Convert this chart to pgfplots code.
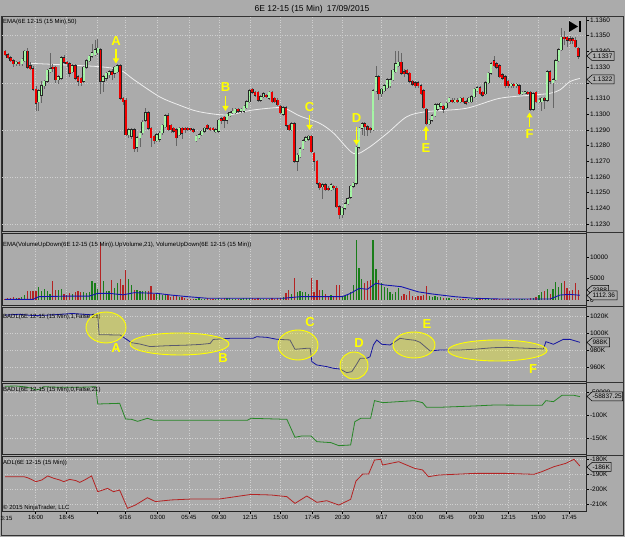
\documentclass[border=0pt]{standalone}
\usepackage{pgfplots}
\pgfplotsset{compat=1.18}
\usepackage{pgfplotstable}
\usepackage{fontspec}
\setmainfont{Liberation Sans}
\usetikzlibrary{arrows.meta}
\definecolor{bg}{RGB}{171,171,171}
\definecolor{gridc}{RGB}{208,208,208}
\definecolor{upc}{RGB}{165,245,165}
\definecolor{dnc}{RGB}{240,0,0}
\definecolor{vup}{RGB}{25,125,25}
\definecolor{vdn}{RGB}{180,35,35}
\definecolor{emac}{RGB}{238,238,238}
\definecolor{badlc}{RGB}{20,20,160}
\definecolor{vemac}{RGB}{20,20,175}
\definecolor{badltwo}{RGB}{40,135,40}
\definecolor{adlc}{RGB}{180,35,35}
\definecolor{ylw}{RGB}{255,255,0}

\pgfplotstableread{
i o h l c v
0 340 341 337 338 300
1 338 339 335 336 400
2 336 337 333 334 500
3 334 335 330 332 600
4 332 334 331 333 400
5 333 334 331 332 500
6 332 336 331 335 700
7 334 341 333 340 1200
8 340 342 329 330 2000
9 331 333 328 329 2100
10 329 331 315 316 2200
11 316 318 302 307 2000
12 308 316 302 315 3100
13 312 321 307 318 2000
14 318 322 316 321 2500
15 321 329 320 328 2200
16 327 339 326 329 1500
17 330 332 327 329 4300
18 330 331 320 322 2300
19 322 325 319 324 2300
20 323 337 322 336 2500
21 336 338 332 333 1500
22 333 334 330 332 1200
23 332 333 324 326 1600
24 327 332 326 331 1400
25 331 332 322 323 1900
26 324 325 318 321 2000
27 323 324 318 320 1900
28 321 331 320 330 1800
29 330 335 329 334 1600
30 334 338 333 337 1800
31 337 345 336 339 4300
32 338 347 337 341 3900
33 339 348 338 342 2500
34 341 342 313 321 13200
35 321 325 314 324 4300
36 323 327 321 326 2000
37 325 328 323 327 2000
38 327 329 322 325 4600
39 326 331 323 330 2700
40 327 332 326 331 3900
41 331 332 309 310 4800
42 310 311 306 308 3500
43 309 310 286 287 7000
44 287 291 285 290 4800
45 286 291 284 290 3500
46 290 291 276 278 2300
47 279 286 276 285 2300
48 285 289 279 288 2000
49 288 296 287 295 2000
50 296 304 295 301 2000
51 301 302 290 291 2000
52 291 292 279 285 3300
53 286 287 281 283 1500
54 283 288 282 287 1500
55 284 289 282 288 1500
56 288 294 287 293 1200
57 292 300 291 299 1100
58 299 301 289 290 1100
59 293 294 288 290 800
60 291 292 288 289 1000
61 290 291 280 285 900
62 287 292 286 291 700
63 291 292 284 288 600
64 291 292 288 290 400
65 291 292 289 290 300
66 291 291 289 290 300
67 290 291 288 289 250
68 283 287 282 286 200
69 285 288 284 287 350
70 287 290 286 289 300
71 289 292 288 291 250
72 293 294 290 291 400
73 291 292 289 290 300
74 291 292 289 290 200
75 289 291 288 290 300
76 289 297 288 296 500
77 297 298 294 296 300
78 298 299 291 296 400
79 296 301 294 300 450
80 299 302 298 301 350
81 301 304 300 302 300
82 301 304 300 303 250
83 303 304 301 302 200
84 302 304 301 303 300
85 302 306 301 305 400
86 304 309 303 308 450
87 308 316 307 315 500
88 316 317 313 314 350
89 314 315 311 312 300
90 314 315 308 309 400
91 309 312 308 311 300
92 311 314 310 313 250
93 312 313 310 311 200
94 310 315 309 314 300
95 314 315 307 308 400
96 310 311 307 308 300
97 309 310 305 306 350
98 305 306 300 301 500
99 300 305 299 304 600
100 304 305 292 293 1700
101 293 294 289 290 2300
102 290 295 289 294 1500
103 294 295 269 270 5000
104 270 275 264 274 1900
105 273 279 272 278 2000
106 278 284 277 283 1900
107 283 286 282 285 1900
108 284 287 283 286 1400
109 286 287 275 276 5000
110 275 276 264 270 1900
111 270 271 255 256 4600
112 256 257 252 253 2300
113 254 256 246 255 2300
114 255 256 251 252 1500
115 253 254 251 252 1000
116 252 256 251 255 1200
117 254 255 252 253 1000
118 253 254 240 241 3600
119 241 242 233 236 3600
120 236 241 234 240 1000
121 240 244 239 243 900
122 243 247 242 246 1200
123 247 255 246 254 1900
124 254 257 253 256 3500
125 256 280 255 279 14000
126 279 292 278 291 7400
127 291 295 287 294 4800
128 294 295 286 292 3900
129 292 293 286 290 4300
130 291 292 288 290 4600
131 290 316 289 315 14000
132 315 331 314 324 7100
133 324 325 309 313 4600
134 313 317 311 316 3900
135 315 319 314 318 3100
136 317 323 316 322 2700
137 318 323 317 322 1900
138 322 329 321 328 1500
139 327 340 326 332 1900
140 331 340 330 333 2700
141 333 339 325 326 1000
142 327 329 324 326 1500
143 328 329 325 326 1200
144 326 327 320 321 2100
145 321 322 318 319 900
146 320 321 317 318 800
147 320 321 317 318 900
148 318 319 312 313 1000
149 315 316 303 304 1200
150 303 304 293 294 3300
151 294 297 293 296 900
152 296 300 295 299 800
153 299 307 298 306 900
154 303 307 302 306 700
155 305 308 303 307 600
156 305 306 301 303 500
157 304 308 303 307 400
158 308 311 307 310 350
159 309 310 307 308 300
160 308 310 307 309 250
161 309 310 307 308 200
162 308 311 307 310 200
163 310 311 307 308 250
164 308 309 306 307 200
165 308 311 307 310 300
166 308 312 307 311 250
167 311 317 310 316 300
168 315 318 314 317 250
169 317 318 312 313 200
170 314 315 311 312 250
171 313 321 312 320 300
172 320 327 319 326 250
173 326 333 325 332 300
174 334 337 330 331 200
175 332 333 329 330 200
176 331 332 323 324 250
177 325 326 322 323 200
178 324 325 317 318 250
179 321 322 317 318 200
180 318 320 317 319 150
181 319 320 317 318 200
182 318 320 317 319 150
183 318 319 312 313 250
184 313 315 312 314 200
185 314 315 313 314 150
186 314 315 312 313 300
187 314 315 302 303 400
188 303 314 302 313 500
189 314 315 307 308 700
190 308 310 307 309 1200
191 308 311 302 310 1900
192 310 311 303 309 2000
193 309 328 308 327 2500
194 327 328 319 321 1500
195 320 323 304 322 2500
196 322 335 321 334 4100
197 334 342 333 341 3100
198 341 355 340 349 3900
199 349 353 344 348 4300
200 349 350 343 347 2700
201 348 350 345 347 2100
202 348 349 345 347 2300
203 347 349 342 343 4000
204 342 343 335 337 2300
}\candles

\pgfplotsset{
  panel/.style={
    scale only axis, width=584pt, xmin=-1.068, xmax=206.76,
    anchor=south west,
    axis line style={black!85, line width=0.7pt},
    tick align=outside, major tick length=3pt,
    ytick pos=right, yticklabel pos=right,
    scaled ticks=false,
    yticklabel style={font=\fontsize{6.5}{7}\selectfont, inner sep=0.8pt},
    xtick={10.93,21.96,32.85,42.81,54.34,65.48,76.16,87.19,98.11,109.36,120.04,134.06,146.16,157.05,167.86,179.11,189.79,200.82},
    xmajorgrids,
    major grid style={gridc, dash pattern=on 1pt off 1.5pt, line width=0.5pt},
    ytick style={black, line width=0.5pt},
    xtick style={black, line width=0.5pt},
  },
  nomk/.style={only marks, mark=*, mark size=0pt, mark options={draw=none, fill=none}, forget plot},
}

\begin{document}
\begin{tikzpicture}
\begin{scope}[x=1pt,y=-1pt,shift={(0pt,537pt)}]
  \path[use as bounding box] (0,0) rectangle (625,537);
  \fill[bg] (0,0) rectangle (625,537);
\end{scope}

% ---------- Price panel ----------
\begin{axis}[panel, at={(2pt,306pt)}, height=215pt, ymin=225.6, ymax=362.55,
  xmajorticks=false,
  ytick={230,240,250,260,270,280,290,300,310,320,330,340,350,360},
  yticklabels={1.1230,1.1240,1.1250,1.1260,1.1270,1.1280,1.1290,1.1300,1.1310,,1.1330,1.1340,1.1350,1.1360},
  extra y ticks={230,260,290,320,350}, extra y tick labels={}, extra y tick style={grid=major}]
\addplot[emac, line width=0.8pt, smooth] coordinates {
(9,332.4) (20,331.5) (34,330.2) (41,328.1) (46,321.8) (55,311.1) (62,305.8) (69,301.6) (79,299.5) (88,302.6) (98,304.3) (101,302.6) (105,298.8) (112,294.2) (117,287.8) (124,275) (129,278.2) (136,287.8) (143,298.4) (150,301.6) (164,303.7) (176,310.1) (188,312.2) (194,313.3) (197.5,315.5) (201,320.7) (204.6,322.8)};
% wicks
\addplot[nomk, error bars/.cd, y dir=both, y explicit, error mark=none,
  error bar style={draw=black!60, line width=0.55pt}]
  table[x=i, y expr={(\thisrow{h}+\thisrow{l})/2}, y error expr={(\thisrow{h}-\thisrow{l})/2}] {\candles};
% body outlines
\addplot[nomk, error bars/.cd, y dir=both, y explicit, error mark=none,
  error bar style={draw=black!85, line width=2.7pt}]
  table[x=i, y expr={(\thisrow{o}+\thisrow{c})/2}, y error expr={max(abs(\thisrow{c}-\thisrow{o})/2,0.4)+0.3}] {\candles};
% up bodies
\addplot[nomk, restrict expr to domain={\thisrow{c}-\thisrow{o}}{0:1000},
  error bars/.cd, y dir=both, y explicit, error mark=none,
  error bar style={draw=upc, line width=1.9pt}]
  table[x=i, y expr={(\thisrow{o}+\thisrow{c})/2}, y error expr={max(abs(\thisrow{c}-\thisrow{o})/2,0.4)}] {\candles};
% down bodies
\addplot[nomk, restrict expr to domain={\thisrow{o}-\thisrow{c}}{0.5:1000},
  error bars/.cd, y dir=both, y explicit, error mark=none,
  error bar style={draw=dnc, line width=1.9pt}]
  table[x=i, y expr={(\thisrow{o}+\thisrow{c})/2}, y error expr={max(abs(\thisrow{c}-\thisrow{o})/2,0.4)}] {\candles};
\end{axis}

% ---------- Volume panel ----------
\begin{axis}[panel, at={(2pt,232pt)}, height=72pt, ymin=-1163, ymax=15581,
  xmajorticks=false,
  ytick={0,5000,10000}, yticklabels={0,5000,10000}]
\addplot[ycomb, mark=none, draw=vup, line width=1.25pt, restrict expr to domain={\thisrow{c}-\thisrow{o}}{0:1000}] table[x=i,y=v] {\candles};
\addplot[ycomb, mark=none, draw=vdn, line width=1.25pt, restrict expr to domain={\thisrow{o}-\thisrow{c}}{0.5:1000}] table[x=i,y=v] {\candles};
\addplot[vemac, line width=0.9pt] coordinates {
(0,150) (10,150) (12,770) (22,900) (30,900) (33,1550) (37,1550) (42,1200) (46,1700) (54,1550) (59,1150) (65,770) (72,400) (99,400) (105,770) (120,770) (123,1550) (126,2700) (129,2500) (132,3900) (135,3500) (141,3100) (147,1900) (152,1400) (160,770) (167,400) (176,230) (194,230) (197.5,1150) (201,1300) (204.6,1100)};
\end{axis}

% ---------- BADL 1 ----------
\begin{axis}[panel, at={(2pt,156pt)}, height=74pt, ymin=943.5, ymax=1030.6,
  xmajorticks=false, ymajorgrids,
  ytick={960,980,1000,1020}, yticklabels={960K,980K,1000K,1020K}]
\addplot[badlc, line width=0.8pt] coordinates {
(0,1021) (5,1022) (10,1020.5) (15,1021) (20,1022) (24,1023) (28,1022) (33,1021) (33.5,998) (41,997.6) (45,988.6) (48,987) (51.6,984) (57.5,985) (64.6,985.7) (69.4,986.5) (73,987.7) (74.1,992.4) (80,993.7) (88.3,993.7) (89.5,995.6) (93.1,994.9) (96.7,992.6) (101.4,991.8) (103.2,980.8) (107.4,982) (108.6,982) (109.2,966.3) (110.9,962.4) (114.5,960.4) (116.9,958.4) (119.2,957.6) (121.6,953.3) (123.4,954.5) (124.6,960.4) (126.4,970.2) (128.7,970.2) (129.9,972) (131.1,985.9) (132.3,991.8) (134.1,986.7) (137,985.9) (138.8,989.8) (140.6,993.7) (143,992.5) (145.9,991.4) (147.7,989) (149.5,983.9) (151.3,978.8) (154.8,980) (161.9,980) (166.7,980.8) (173.8,982.7) (178.5,983.1) (185.7,982) (191.6,981.2) (192.5,989.8) (195.2,986.7) (198.7,992.5) (201.1,992.5) (204.6,989)};
\end{axis}

% ---------- BADL 0 ----------
\begin{axis}[panel, at={(2pt,83pt)}, height=71pt, ymin=-184.8, ymax=-30.4,
  xmajorticks=false, ymajorgrids,
  ytick={-150,-100,-50}, yticklabels={-150K,-100K,-50000}]
\addplot[badltwo, line width=0.8pt] coordinates {
(0,-37.5) (3.9,-37) (6.7,-38.5) (9.6,-42) (11,-45.6) (12.4,-44) (13.8,-38.5) (19.5,-39.8) (26.6,-39.8) (32.3,-38.5) (33,-76.1) (40.8,-74.6) (42.9,-108.7) (45,-109.4) (47.2,-113.8) (50.7,-107.2) (53,-111.6) (86.2,-111.6) (87.6,-107.2) (100.3,-109.4) (103.2,-148.5) (105.6,-145.6) (108.9,-145.6) (111,-158) (116,-160.1) (118.8,-166.7) (123,-165.2) (124.5,-114.5) (126.6,-107.2) (130.1,-107.2) (131.5,-68.8) (134.4,-73.2) (140,-71) (145.7,-68.8) (148.6,-73.2) (150,-83.3) (154.3,-83.3) (167,-80.4) (174,-78.3) (191.1,-79) (192.5,-68.8) (195.2,-71) (198.2,-57.2) (202.5,-57.2) (204.6,-60.1)};
\end{axis}

% ---------- ADL ----------
\begin{axis}[panel, at={(2pt,26pt)}, height=55pt, ymin=-214.67, ymax=-178,
  ymajorgrids, xtick pos=left,
  xticklabels={16:00,18:45,,9/16,03:00,05:45,09:30,12:15,15:00,17:45,20:30,9/17,03:00,05:45,09:30,12:15,15:00,17:45},
  xticklabel style={font=\fontsize{6}{7}\selectfont, inner sep=1pt},
  ytick={-210,-200,-190,-180}, yticklabels={-210K,-200K,-190K,-180K}]
\addplot[adlc, line width=0.8pt] coordinates {
(0,-191.8) (6.7,-191.8) (8.1,-192.5) (11,-195.1) (13.1,-194) (15.2,-191.3) (17.4,-192.9) (19.5,-194) (20.9,-195.1) (23,-193.6) (25.2,-194.4) (26.6,-195.6) (28.7,-193.6) (30.8,-191.3) (33,-201.8) (36.5,-199.6) (38.6,-201.8) (40.8,-200.7) (43.6,-212.9) (46.4,-210.7) (50.7,-205.8) (53.5,-208.4) (59.2,-207.3) (66.3,-206.7) (76.2,-206.7) (87.6,-203.6) (94.7,-204) (100.3,-205.1) (103.2,-209.6) (107.4,-204.7) (111,-208.9) (114.5,-207.8) (118.8,-210.7) (123,-206.9) (124.9,-194.7) (127.3,-190) (129.4,-190) (131.5,-180.7) (133.7,-180.2) (134.4,-184) (140.1,-181.8) (145.7,-186.2) (148.6,-187.3) (150.7,-191.8) (154.3,-190.7) (167,-189.6) (178.4,-189.6) (188.3,-190.2) (191.1,-188.4) (195.4,-185.1) (199.6,-182.9) (202.5,-180.2) (204.6,-184.7)};
\end{axis}

% ---------- annotations (image pixel coordinates) ----------
\begin{scope}[x=1pt,y=-1pt,shift={(0pt,537pt)}]
  \draw[black!80, line width=0.8pt] (1,16) rectangle (623.5,535);
  \foreach \yy in {232,306,382,455} \draw[black!80, line width=0.8pt] (586,\yy) -- (623.5,\yy);
  \node[font=\fontsize{8.5}{10}\selectfont] at (312,9) {6E 12-15 (15 Min)\enspace 17/09/2015};
  \tikzset{plab/.style={anchor=west, inner sep=0, font=\fontsize{6}{7}\selectfont}}
  \node[plab] at (3,22) {EMA(6E 12-15 (15 Min),50)};
  \node[plab] at (3,244.5) {EMA(VolumeUpDown(6E 12-15 (15 Min)).UpVolume,21), VolumeUpDown(6E 12-15 (15 Min))};
  \node[plab] at (3,317) {BADL(6E 12-15 (15 Min),1,False,21)};
  \node[plab] at (3,390) {BADL(6E 12-15 (15 Min),0,False,21)};
  \node[plab] at (3,463) {ADL(6E 12-15 (15 Min))};
  \node[plab] at (3,507.5) {\textcopyright{} 2015 NinjaTrader, LLC};
  \node[font=\fontsize{6}{7}\selectfont, inner sep=0] at (6.5,518.5) {3:15};
  % value boxes
  \newcommand{\valbox}[3]{%
    \draw[black, line width=0.5pt, fill=bg] (587,#1) -- (592,#1-4.5) -- (#2,#1-4.5) -- (#2,#1+4.5) -- (592,#1+4.5) -- cycle;
    \node[font=\fontsize{6.5}{7}\selectfont, anchor=west, inner sep=0] at (592.3,#1) {#3};}
  \valbox{56}{614}{1.1337}
  \valbox{79.5}{614}{1.1322}
  \valbox{290}{608.5}{2388}
  \valbox{295.5}{617}{1112.36}
  \valbox{342.5}{609.5}{988K}
  \valbox{396.5}{622.5}{-58837.25}
  \valbox{467}{611}{-186K}
  % end-of-chart icon
  \fill[black] (569,21) -- (578,26.5) -- (569,32) -- cycle;
  \fill[black] (578.5,21) rectangle (580.5,32);
  % yellow letters and arrows in price panel
  \tikzset{lbl/.style={text=ylw, inner sep=0, font=\fontsize{13}{13}\selectfont\bfseries},
           yarr/.style={ylw, line width=1.4pt, -{Triangle[width=6pt,length=5pt]}}}
  \node[lbl] at (116,41) {A};   \draw[yarr] (116,49) -- (116,63.5);
  \node[lbl] at (225.5,87.5) {B}; \draw[yarr] (225.5,96) -- (225.5,111);
  \node[lbl] at (309.5,107) {C}; \draw[yarr] (309.5,115.5) -- (309.5,130);
  \node[lbl] at (356.5,118) {D}; \draw[yarr] (356.5,127) -- (356.5,145);
  \node[lbl] at (426,148) {E};   \draw[yarr] (426,140.5) -- (426,126);
  \node[lbl] at (529.5,134) {F}; \draw[yarr] (529.5,127) -- (529.5,112.5);
  % ellipses in BADL panel
  \tikzset{ell/.style={fill=ylw, fill opacity=0.3, draw=ylw, line width=0.9pt}}
  \filldraw[ell] (106,327.5) ellipse [x radius=20pt, y radius=15.5pt];
  \filldraw[ell] (179.5,344) ellipse [x radius=49.5pt, y radius=11pt];
  \filldraw[ell] (298,345) ellipse [x radius=20pt, y radius=15pt];
  \filldraw[ell] (354,365.5) ellipse [x radius=14pt, y radius=13.5pt];
  \filldraw[ell] (414,345) ellipse [x radius=21pt, y radius=13pt];
  \filldraw[ell] (497.5,350.5) ellipse [x radius=49.5pt, y radius=10.5pt];
  \node[lbl] at (116,348.5) {A};
  \node[lbl] at (223,358) {B};
  \node[lbl] at (310,322) {C};
  \node[lbl] at (359,343) {D};
  \node[lbl] at (427,324.5) {E};
  \node[lbl] at (533,369.5) {F};
\end{scope}
\end{tikzpicture}
\end{document}
